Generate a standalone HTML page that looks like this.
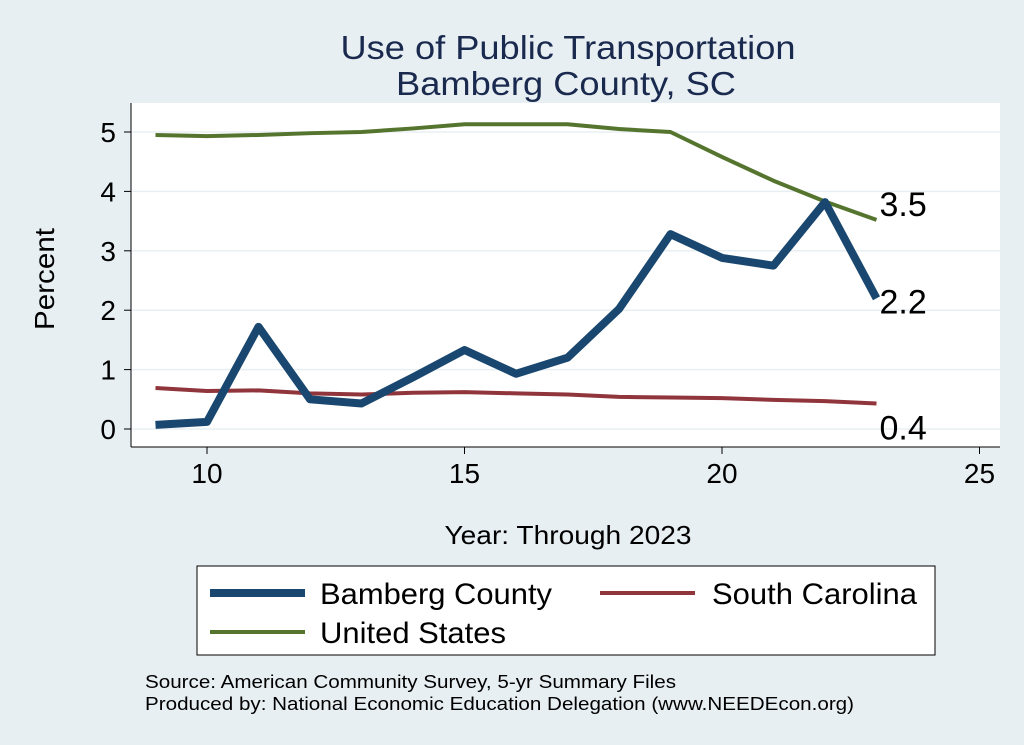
<!DOCTYPE html>
<html><head><meta charset="utf-8"><style>
body{margin:0;background:#e8eff3;}
svg{display:block;font-family:"Liberation Sans",Arial,sans-serif;}
</style></head><body>
<svg id="c" width="1024" height="745">
<rect x="0" y="0" width="1024" height="745" fill="#e8eff3"/>
<rect x="131" y="103" width="869" height="344" fill="#ffffff"/>
<text x="568" y="59" font-size="33" fill="#1a2a4f" text-anchor="middle" textLength="455" lengthAdjust="spacingAndGlyphs">Use of Public Transportation</text>
<text x="566" y="95" font-size="33" fill="#1a2a4f" text-anchor="middle" textLength="340" lengthAdjust="spacingAndGlyphs">Bamberg County, SC</text>
<g id="grid"></g><g id="axes"></g><g id="series"></g>
<text x="54" y="279" font-size="28" text-anchor="middle" textLength="102" lengthAdjust="spacingAndGlyphs" transform="rotate(-90 54 279)">Percent</text>
<text x="568" y="544" font-size="26" text-anchor="middle" textLength="247" lengthAdjust="spacingAndGlyphs">Year: Through 2023</text>
<g>
<rect x="197" y="566" width="738" height="89" fill="#fff" stroke="#000" stroke-width="1"/>
<line x1="210" y1="593" x2="305" y2="593" stroke="#1a476f" stroke-width="8"/>
<text x="320" y="604" font-size="30" textLength="232" lengthAdjust="spacingAndGlyphs">Bamberg County</text>
<line x1="600" y1="593" x2="695" y2="593" stroke="#90353b" stroke-width="4"/>
<text x="712" y="604" font-size="30" textLength="205" lengthAdjust="spacingAndGlyphs">South Carolina</text>
<line x1="210" y1="632" x2="305" y2="632" stroke="#55752f" stroke-width="4"/>
<text x="320" y="643" font-size="30" textLength="186" lengthAdjust="spacingAndGlyphs">United States</text>
</g>
<text x="145" y="688" font-size="18" textLength="531" lengthAdjust="spacingAndGlyphs">Source: American Community Survey, 5-yr Summary Files</text>
<text x="145" y="710" font-size="18" textLength="709" lengthAdjust="spacingAndGlyphs">Produced by: National Economic Education Delegation (www.NEEDEcon.org)</text>
</svg>
<script>
const years=[9,10,11,12,13,14,15,16,17,18,19,20,21,22,23];
const bamberg=[0.07,0.12,1.72,0.5,0.43,0.87,1.33,0.93,1.2,2.02,3.28,2.88,2.75,3.82,2.2];
const sc=[0.69,0.64,0.65,0.6,0.58,0.61,0.62,0.6,0.58,0.54,0.53,0.52,0.49,0.47,0.43];
const us=[4.95,4.93,4.95,4.98,5.0,5.06,5.13,5.13,5.13,5.05,5.0,4.58,4.18,3.83,3.52];
const xTicks=[10,15,20,25];
const yTicks=[0,1,2,3,4,5];
const NS='http://www.w3.org/2000/svg';
const X=v=>207+(v-10)*51.5;
const Y=v=>429-v*59.4;
function mk(p,t,a){const e=document.createElementNS(NS,t);for(const k in a)e.setAttribute(k,a[k]);p.appendChild(e);return e;}
const grid=document.getElementById('grid'),axes=document.getElementById('axes'),ser=document.getElementById('series');
mk(axes,'line',{x1:131,y1:103,x2:131,y2:447,stroke:'#000','stroke-width':1});
mk(axes,'line',{x1:131,y1:447,x2:1000,y2:447,stroke:'#000','stroke-width':1});
yTicks.forEach(t=>{
 const g=mk(grid,'line',{x1:131,y1:Y(t),x2:1000,y2:Y(t),stroke:'#e8eff3','stroke-width':1.5});
 
 
 mk(axes,'line',{x1:124,y1:Y(t),x2:131,y2:Y(t),stroke:'#000'});
 const tx=mk(axes,'text',{x:116,y:Y(t)+10,'font-size':28,'text-anchor':'end'});tx.textContent=t;
 
 
});
xTicks.forEach(t=>{
 mk(axes,'line',{x1:X(t),y1:447,x2:X(t),y2:454,stroke:'#000'});
 const tx=mk(axes,'text',{x:X(t),y:483,'font-size':28,'text-anchor':'middle'});tx.textContent=t;
 
 
});
function line(data,color,w,name,dy){
 const p=mk(ser,'polyline',{points:data.map((v,i)=>X(years[i])+','+Y(v)).join(' '),fill:'none',stroke:color,'stroke-width':w,'stroke-linejoin':'round'});
 
 
 const n=data.length-1;
 const lb=mk(ser,'text',{x:X(years[n])+3,y:Y(data[n])+dy,'font-size':34});lb.textContent=data[n].toFixed(1);
 
 
}
line(sc,'#90353b',4,'line-south-carolina',36);
line(us,'#55752f',4,'line-united-states',-4);
line(bamberg,'#1a476f',8,'line-bamberg-county',15);
</script>
</body></html>
